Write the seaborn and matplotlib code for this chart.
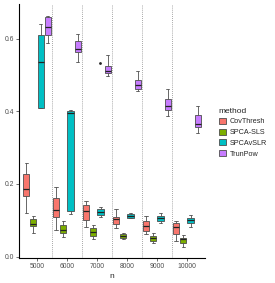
import numpy as np
import pandas as pd
import matplotlib
matplotlib.use('Agg')
import matplotlib.pyplot as plt
import seaborn as sns

# five-number summaries: [low whisker, q1, median, q3, high whisker]
n_values = ['5000', '6000', '7000', '8000', '9000', '10000']
methods = ['CovThresh', 'SPCA-SLS', 'SPCAvSLR', 'TrunPow']
colors = ['#F8766D', '#7CAE00', '#00BFC4', '#C77CFF']

covthresh = [[0.121, 0.168, 0.187, 0.228, 0.258],
             [0.074, 0.110, 0.129, 0.162, 0.192],
             [0.082, 0.102, 0.126, 0.143, 0.154],
             [0.080, 0.091, 0.104, 0.110, 0.132],
             [0.063, 0.071, 0.085, 0.099, 0.113],
             [0.044, 0.063, 0.082, 0.093, 0.099]]
spca_sls = [[0.066, 0.085, 0.091, 0.104, 0.113],
            [0.055, 0.066, 0.074, 0.088, 0.099],
            [0.049, 0.058, 0.069, 0.080, 0.088],
            [0.049, 0.052, 0.058, 0.063, 0.066],
            [0.038, 0.044, 0.052, 0.058, 0.066],
            [0.027, 0.038, 0.049, 0.052, 0.060]]
spcavslr = [[0.409, 0.409, 0.536, 0.610, 0.640],
            [0.118, 0.126, 0.396, 0.400, 0.402],
            [0.110, 0.115, 0.124, 0.132, 0.137],
            [0.107, 0.107, 0.113, 0.118, 0.121],
            [0.093, 0.099, 0.107, 0.113, 0.121],
            [0.082, 0.093, 0.102, 0.107, 0.115]]
trunpow = [[0.588, 0.610, 0.632, 0.659, 0.662],
           [0.536, 0.563, 0.571, 0.593, 0.613],
           [0.497, 0.505, 0.511, 0.525, 0.555],
           [0.456, 0.462, 0.473, 0.486, 0.511],
           [0.387, 0.404, 0.415, 0.434, 0.462],
           [0.341, 0.357, 0.365, 0.390, 0.415]]

# outlying points
out_method = ['SPCAvSLR']
out_n = ['7000']
out_value = [0.533]

rows = []
for m, summ in zip(methods, [covthresh, spca_sls, spcavslr, trunpow]):
    for n, vals in zip(n_values, summ):
        for v in vals:
            rows.append({'n': n, 'method': m, 'value': v})
df = pd.DataFrame(rows)
out_df = pd.DataFrame({'n': out_n, 'method': out_method, 'value': out_value})

sns.set_style('ticks')
plt.rcParams['font.family'] = ['Liberation Sans', 'DejaVu Sans']

fig = plt.figure(figsize=(2.75, 2.83), dpi=100)
ax = fig.add_axes([0.069, 0.088, 0.676, 0.898])

for x in np.arange(0.5, 5, 1):
    ax.axvline(x, color='#8a8a8a', linestyle=(0, (1, 1.5)), linewidth=0.6, zorder=0)

sns.boxplot(data=df, x='n', y='value', hue='method', order=n_values, hue_order=methods,
            palette=colors, whis=(0, 100), width=0.97, gap=0.15, linewidth=0.6,
            linecolor='#4d4d4d', saturation=1, ax=ax,
            medianprops={'color': '#222222', 'linewidth': 0.9})
sns.stripplot(data=out_df, x='n', y='value', hue='method', order=n_values, hue_order=methods,
              dodge=True, jitter=False, palette=['#222222'] * 4, size=2, legend=False, ax=ax)

ax.set_xlim(-0.6, 5.6)
ax.set_ylim(-0.004, 0.695)
ax.set_yticks([0.0, 0.2, 0.4, 0.6])
ax.set_yticklabels(['0.0', '0.2', '0.4', '0.6'])
ax.set_xlabel('n', fontsize=6, labelpad=2)
ax.set_ylabel('')
ax.tick_params(labelsize=4.9, labelcolor='#4d4d4d', length=2, width=0.5, color='#333333', pad=1.5)
for s in ['top', 'right']:
    ax.spines[s].set_visible(False)
for s in ['left', 'bottom']:
    ax.spines[s].set_linewidth(0.8)
    ax.spines[s].set_color('black')

sns.move_legend(ax, loc='upper left', bbox_to_anchor=(0.785, 0.63),
                bbox_transform=fig.transFigure, frameon=False, title='method',
                fontsize=5.2, title_fontsize=6, handlelength=1.0, handleheight=0.9,
                handletextpad=0.55, labelspacing=0.45, borderaxespad=0)
leg = ax.get_legend()
leg._legend_box.align = 'left'

fig.savefig('out.png', dpi=100)
